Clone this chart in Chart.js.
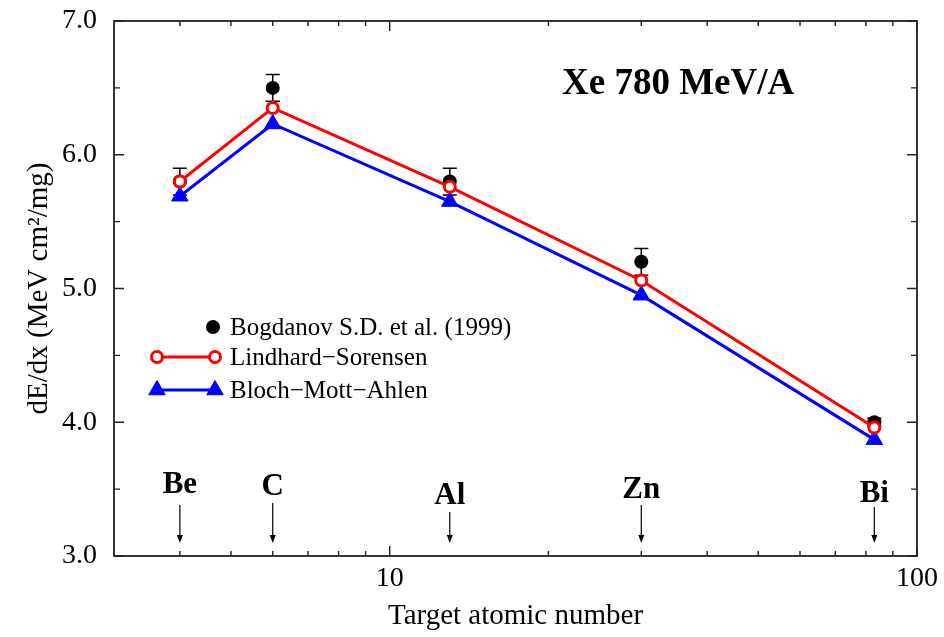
<!DOCTYPE html>
<html>
<head>
<meta charset="utf-8">
<script src="https://cdn.jsdelivr.net/npm/chart.js@4.4.0/dist/chart.umd.min.js"></script>
<style>
  html, body { margin: 0; padding: 0; background: #fff; }
  canvas { display: block; }
</style>
</head>
<body>
<canvas id="dedx" width="944" height="637"></canvas>
<script>
// Stopping power of Xe 780 MeV/A in different targets
const elements = ["Be", "C", "Al", "Zn", "Bi"];
const atomicNumber = [4, 6, 13, 30, 83];
const bogdanov = [5.8, 6.5, 5.8, 5.2, 4.0];
const bogdanovErr = [0.1, 0.1, 0.1, 0.1, 0.03];
const lindhardSorensen = [5.8, 6.35, 5.76, 5.06, 3.96];
const blochMottAhlen = [5.69, 6.23, 5.65, 4.95, 3.87];

const xTickLabels = [10, 100];
const xMinorTicks = [4, 5, 6, 7, 8, 9, 20, 30, 40, 50, 60, 70, 80, 90];
const yMajorTicks = [3, 4, 5, 6, 7];
const yMinorTicks = [3.5, 4.5, 5.5, 6.5];

const serif = "'Liberation Serif', 'Times New Roman', serif";

function points(values) {
  return atomicNumber.map((z, i) => ({ x: z, y: values[i] }));
}

// box around the plot with inward ticks on all four sides
const framePlugin = {
  id: "frame",
  afterDraw(chart) {
    const { ctx, chartArea: a, scales } = chart;
    const x = scales.x, y = scales.y;
    ctx.save();
    ctx.strokeStyle = "#222";
    ctx.lineWidth = 1.8;
    ctx.strokeRect(a.left, a.top, a.right - a.left, a.bottom - a.top);
    ctx.lineWidth = 1.4;
    ctx.beginPath();
    const xt = (v, len) => {
      const px = x.getPixelForValue(v);
      ctx.moveTo(px, a.bottom); ctx.lineTo(px, a.bottom - len);
      ctx.moveTo(px, a.top); ctx.lineTo(px, a.top + len);
    };
    const yt = (v, len) => {
      const py = y.getPixelForValue(v);
      ctx.moveTo(a.left, py); ctx.lineTo(a.left + len, py);
      ctx.moveTo(a.right, py); ctx.lineTo(a.right - len, py);
    };
    xTickLabels.forEach(v => xt(v, 10));
    xMinorTicks.forEach(v => xt(v, 5));
    yMajorTicks.forEach(v => yt(v, 10));
    yMinorTicks.forEach(v => yt(v, 6));
    ctx.stroke();
    ctx.restore();
  }
};

// vertical error bars for the measured points
const errorBarPlugin = {
  id: "errorBars",
  beforeDatasetsDraw(chart) {
    const { ctx, scales } = chart;
    ctx.save();
    ctx.strokeStyle = "#000";
    ctx.lineWidth = 1.5;
    ctx.beginPath();
    atomicNumber.forEach((z, i) => {
      const px = scales.x.getPixelForValue(z);
      const hi = scales.y.getPixelForValue(bogdanov[i] + bogdanovErr[i]);
      const lo = scales.y.getPixelForValue(bogdanov[i] - bogdanovErr[i]);
      ctx.moveTo(px, lo); ctx.lineTo(px, hi);
      ctx.moveTo(px - 7, hi); ctx.lineTo(px + 7, hi);
      ctx.moveTo(px - 7, lo); ctx.lineTo(px + 7, lo);
    });
    ctx.stroke();
    ctx.restore();
  }
};

// target labels with arrows, beam label and legend
const labelOffsets = {
  Be: { text: 63, arrow: 51 },
  C:  { text: 61, arrow: 53 },
  Al: { text: 52, arrow: 44 },
  Zn: { text: 58, arrow: 51 },
  Bi: { text: 54, arrow: 49 }
};

const annotationPlugin = {
  id: "annotations",
  afterDraw(chart) {
    const { ctx, chartArea: a, scales } = chart;
    ctx.save();
    ctx.fillStyle = "#000";
    ctx.strokeStyle = "#000";

    elements.forEach((el, i) => {
      const px = scales.x.getPixelForValue(atomicNumber[i]);
      const off = labelOffsets[el];
      ctx.font = "bold 31px " + serif;
      ctx.textAlign = "center";
      ctx.textBaseline = "alphabetic";
      ctx.fillText(el, px, a.bottom - off.text);
      const tip = a.bottom - 13;
      ctx.lineWidth = 1.2;
      ctx.beginPath();
      ctx.moveTo(px, a.bottom - off.arrow);
      ctx.lineTo(px, tip - 6);
      ctx.stroke();
      ctx.beginPath();
      ctx.moveTo(px - 3, tip - 8);
      ctx.lineTo(px + 3, tip - 8);
      ctx.lineTo(px, tip);
      ctx.closePath();
      ctx.fill();
    });

    ctx.font = "bold 37px " + serif;
    ctx.textAlign = "left";
    ctx.fillText("Xe 780 MeV/A", 562, 94);

    // legend
    const ds = chart.data.datasets;
    const lx0 = 157, lx1 = 215, tx = 230;
    const rows = [327, 357, 390];
    ctx.font = "25px " + serif;
    ctx.textBaseline = "middle";
    ds.forEach((d, i) => {
      const ly = rows[i];
      if (d.showLine !== false) {
        ctx.strokeStyle = d.borderColor;
        ctx.lineWidth = d.borderWidth;
        ctx.beginPath();
        ctx.moveTo(lx0, ly); ctx.lineTo(lx1, ly);
        ctx.stroke();
      }
      const opts = {
        pointStyle: d.pointStyle,
        radius: d.pointRadius,
        borderWidth: d.pointBorderWidth,
        rotation: 0
      };
      ctx.fillStyle = d.pointBackgroundColor;
      ctx.strokeStyle = d.pointBorderColor;
      ctx.lineWidth = d.pointBorderWidth;
      const ends = d.showLine !== false ? [lx0, lx1] : [213];
      ends.forEach(ex => Chart.helpers.drawPoint(ctx, opts, ex, ly));
      ctx.fillStyle = "#000";
      ctx.fillText(d.label, tx, ly + 1);
    });
    ctx.restore();
  }
};

new Chart(document.getElementById("dedx"), {
  type: "line",
  data: {
    datasets: [
      {
        label: "Bogdanov S.D. et al. (1999)",
        data: points(bogdanov),
        showLine: false,
        pointStyle: "circle",
        pointRadius: 7,
        pointBorderWidth: 0,
        pointBackgroundColor: "#000",
        pointBorderColor: "#000",
        order: 3
      },
      {
        label: "Lindhard\u2212Sorensen",
        data: points(lindhardSorensen),
        borderColor: "#ff0000",
        borderWidth: 3,
        pointStyle: "circle",
        pointRadius: 5.5,
        pointBorderWidth: 3,
        pointBackgroundColor: "#ffffff",
        pointBorderColor: "#ff0000",
        order: 1
      },
      {
        label: "Bloch\u2212Mott\u2212Ahlen",
        data: points(blochMottAhlen),
        borderColor: "#0000ff",
        borderWidth: 3,
        pointStyle: "triangle",
        pointRadius: 9.5,
        pointBorderWidth: 1,
        pointBackgroundColor: "#0000ff",
        pointBorderColor: "#0000ff",
        order: 2
      }
    ]
  },
  options: {
    responsive: false,
    animation: false,
    devicePixelRatio: 1,
    layout: { padding: { left: 0, right: 27, top: 21, bottom: 0 } },
    plugins: {
      legend: { display: false },
      tooltip: { enabled: false }
    },
    scales: {
      x: {
        type: "logarithmic",
        min: 3,
        max: 100,
        grid: { display: false, drawTicks: false },
        border: { display: false },
        afterBuildTicks: (s) => { s.ticks = xTickLabels.map(v => ({ value: v })); },
        afterFit: (s) => { s.height = 81; s.paddingLeft = 0; s.paddingRight = 0; },
        ticks: {
          color: "#000",
          font: { family: serif, size: 28 },
          padding: 6,
          autoSkip: false,
          maxRotation: 0,
          callback: (v) => String(v)
        },
        title: {
          display: true,
          text: "Target atomic number",
          color: "#000",
          font: { family: serif, size: 29 },
          padding: { top: 0, bottom: 3 }
        }
      },
      y: {
        min: 3,
        max: 7,
        grid: { display: false, drawTicks: false },
        border: { display: false },
        afterBuildTicks: (s) => { s.ticks = yMajorTicks.map(v => ({ value: v })); },
        afterFit: (s) => { s.width = 114; s.paddingTop = 0; s.paddingBottom = 0; },
        ticks: {
          color: "#000",
          font: { family: serif, size: 28 },
          padding: 17,
          callback: (v) => v.toFixed(1)
        },
        title: {
          display: true,
          text: "dE/dx (MeV cm\u00b2/mg)",
          color: "#000",
          font: { family: serif, size: 29 },
          padding: { top: 22, bottom: 0 }
        }
      }
    }
  },
  plugins: [errorBarPlugin, framePlugin, annotationPlugin]
});
</script>
</body>
</html>
